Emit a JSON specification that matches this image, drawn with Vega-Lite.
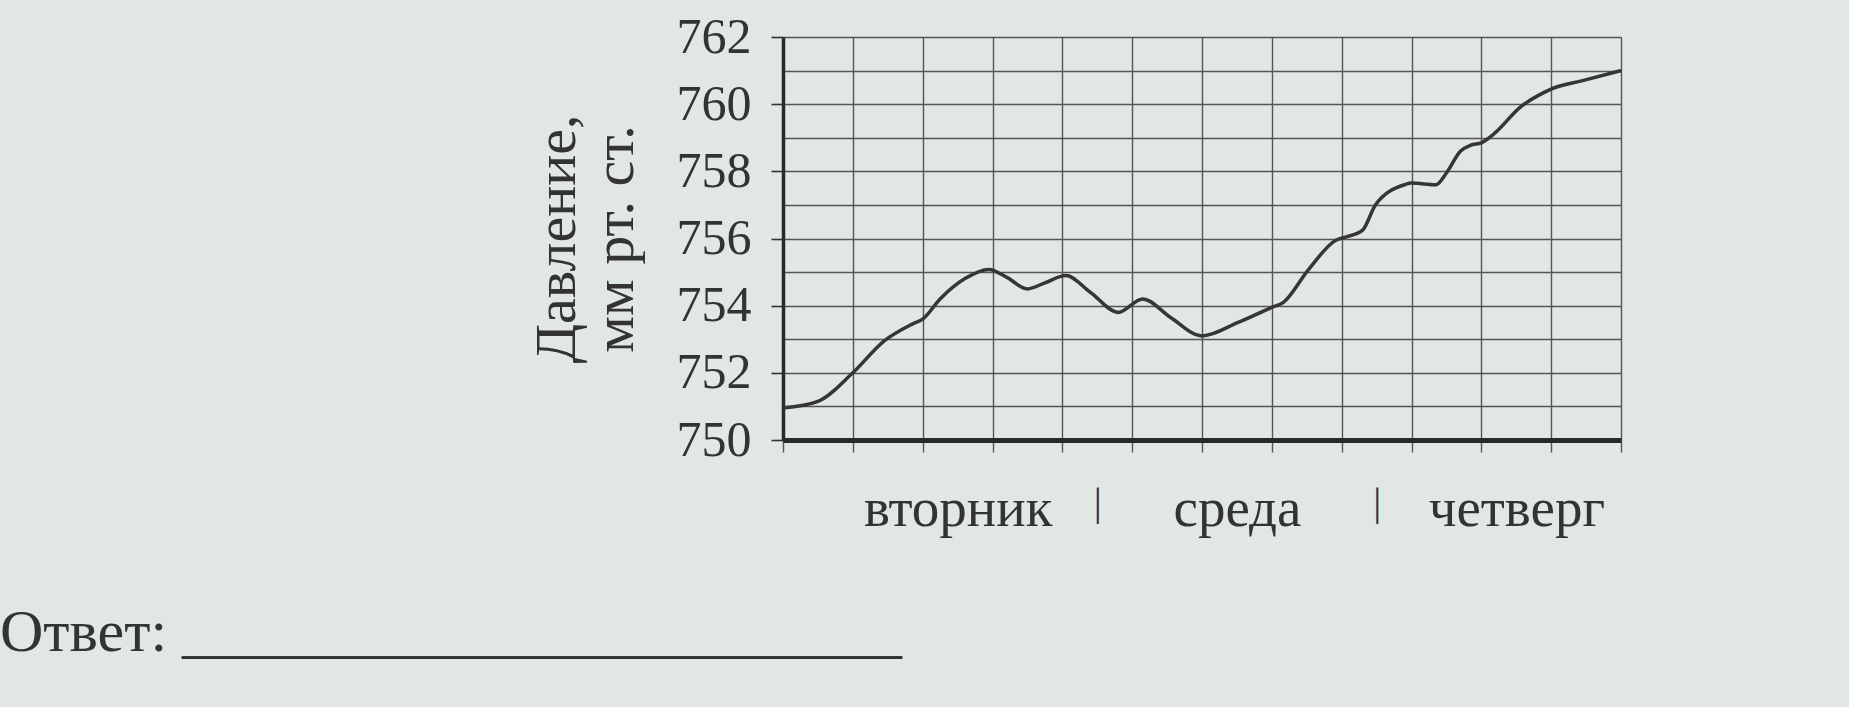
{
  "$schema": "https://vega.github.io/schema/vega-lite/v6.json",
  "width": 838,
  "height": 403,
  "autosize": {"type": "none"},
  "padding": {"left": 783, "top": 37, "right": 228, "bottom": 267},
  "background": "#e1e7e4",
  "config": {"view": {"stroke": null}, "font": "Liberation Serif"},
  "title": {
    "text": "Ответ: ________________________",
    "orient": "bottom",
    "anchor": "start",
    "frame": "group",
    "dx": -783,
    "offset": 68,
    "fontSize": 60,
    "font": "Liberation Serif",
    "fontWeight": "normal",
    "color": "#333333",
    "limit": 0
  },
  "data": {
    "values": [
      {"t": 0, "p": 750.95},
      {"t": 3, "p": 751.15},
      {"t": 6, "p": 752.0},
      {"t": 8.7, "p": 752.95},
      {"t": 11.1, "p": 753.45},
      {"t": 12, "p": 753.6},
      {"t": 13.5, "p": 754.2},
      {"t": 15.6, "p": 754.8},
      {"t": 17.7, "p": 755.08},
      {"t": 19.2, "p": 754.85},
      {"t": 21, "p": 754.5},
      {"t": 22.5, "p": 754.68},
      {"t": 24.3, "p": 754.9},
      {"t": 26.4, "p": 754.4},
      {"t": 28.8, "p": 753.8},
      {"t": 30.9, "p": 754.2},
      {"t": 33.3, "p": 753.65},
      {"t": 36, "p": 753.1},
      {"t": 39.1, "p": 753.5},
      {"t": 42, "p": 753.95},
      {"t": 43, "p": 754.1},
      {"t": 45.1, "p": 755.05},
      {"t": 47.5, "p": 755.95},
      {"t": 48.4, "p": 756.05},
      {"t": 49.8, "p": 756.25},
      {"t": 50.9, "p": 757.0},
      {"t": 53.4, "p": 757.6},
      {"t": 54, "p": 757.65},
      {"t": 56.1, "p": 757.6},
      {"t": 57, "p": 757.95},
      {"t": 58.2, "p": 758.6},
      {"t": 59.1, "p": 758.78},
      {"t": 60, "p": 758.85},
      {"t": 61.2, "p": 759.15},
      {"t": 63.3, "p": 759.9},
      {"t": 65.4, "p": 760.35},
      {"t": 66, "p": 760.45},
      {"t": 68.7, "p": 760.7},
      {"t": 72, "p": 761.0}
    ]
  },
  "mark": {"type": "line", "interpolate": "monotone", "color": "#363636", "strokeWidth": 3.5},
  "encoding": {
    "x": {
      "field": "t",
      "type": "quantitative",
      "scale": {"domain": [0, 72], "nice": false, "zero": false},
      "axis": {
        "title": null,
        "values": [0, 6, 12, 18, 24, 30, 36, 42, 48, 54, 60, 66, 72],
        "grid": true,
        "gridColor": "#555555",
        "gridWidth": 1.4,
        "gridOpacity": 1,
        "domainColor": "#2a2a2a",
        "domainWidth": 5,
        "tickColor": "#555555",
        "tickSize": 12,
        "tickWidth": 1.4,
        "labelExpr": "datum.value == 12 ? 'вторник' : datum.value == 36 ? 'среда' : datum.value == 60 ? 'четверг' : (datum.value == 24 || datum.value == 48) ? '|' : ''",
        "labelFont": "Liberation Serif",
        "labelFontSize": {"condition": {"test": "datum.value == 24 || datum.value == 48", "value": 40}, "value": 55},
        "labelColor": "#333333",
        "labelPadding": 30,
        "labelOffset": 35,
        "labelLimit": 0,
        "labelOverlap": false,
        "labelFlush": false
      }
    },
    "y": {
      "field": "p",
      "type": "quantitative",
      "scale": {"domain": [750, 762], "nice": false, "zero": false},
      "axis": {
        "title": ["Давление,", "мм рт. ст."],
        "titleFont": "Liberation Serif",
        "titleFontSize": 58,
        "titleFontWeight": "normal",
        "titleColor": "#333333",
        "titleLineHeight": 58,
        "titlePadding": 32,
        "values": [750, 751, 752, 753, 754, 755, 756, 757, 758, 759, 760, 761, 762],
        "grid": true,
        "gridColor": "#555555",
        "gridWidth": 1.4,
        "gridOpacity": 1,
        "domainColor": "#2a2a2a",
        "domainWidth": 3.5,
        "tickColor": "#333333",
        "tickSize": 12,
        "tickWidth": 1.6,
        "tickOpacity": {"condition": {"test": "datum.value % 2 == 0", "value": 1}, "value": 0},
        "labelExpr": "datum.value % 2 == 0 ? datum.label : ''",
        "labelFont": "Liberation Serif",
        "labelFontSize": 50,
        "labelColor": "#333333",
        "labelPadding": 20,
        "labelOverlap": false,
        "labelFlush": false
      }
    }
  }
}
